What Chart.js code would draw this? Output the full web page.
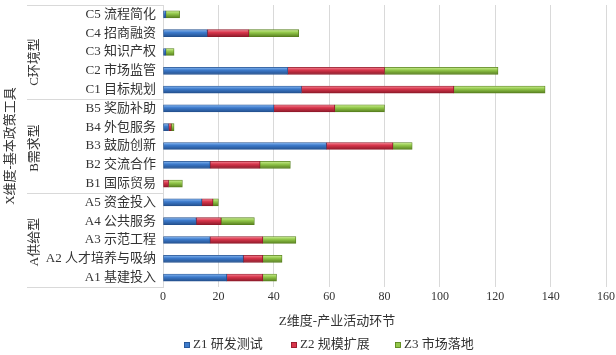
<!DOCTYPE html>
<html lang="zh">
<head>
  <meta charset="UTF-8" />
  <title>政策工具 - 产业活动环节</title>
  <script src="https://cdn.jsdelivr.net/npm/chart.js"></script>
  <style>
    html, body { margin: 0; padding: 0; background: #ffffff; }
    #wrap { width: 616px; height: 355px; }
  </style>
</head>
<body>
<div id="wrap"><canvas id="chart" width="616" height="355"></canvas></div>

<script>
  // data (top to bottom)
  const categories = ['C5 流程简化', 'C4 招商融资', 'C3 知识产权', 'C2 市场监管', 'C1 目标规划',
                      'B5 奖励补助', 'B4 外包服务', 'B3 鼓励创新', 'B2 交流合作', 'B1 国际贸易',
                      'A5 资金投入', 'A4 公共服务', 'A3 示范工程', 'A2 人才培养与吸纳', 'A1 基建投入'];
  const seriesNames = ['Z1 研发测试', 'Z2 规模扩展', 'Z3 市场落地'];
  const z1 = [1, 16, 1, 45, 50, 40, 2, 59, 17, 0, 14, 12, 17, 29, 23];
  const z2 = [0, 15, 0, 35, 55, 22, 1, 24, 18, 2, 4, 9, 19, 7, 13];
  const z3 = [5, 18, 3, 41, 33, 18, 1, 7, 11, 5, 2, 12, 12, 7, 5];
  const groupNames = ['C环境型', 'B需求型', 'A供给型'];
  const groupStart = [0, 5, 10];
  const groupEnd = [4, 9, 14];
  const xTicks = [0, 20, 40, 60, 80, 100, 120, 140, 160];
  const xTitle = 'Z维度-产业活动环节';
  const yTitle = 'X维度-基本政策工具';

  const FONT = "'Liberation Serif', 'Noto Sans CJK SC', serif";
  const TEXT = '#333333';
  const LINE = '#d9d9d9';

  // light / base / dark for the glossy bars
  const palette = [
    ['#8dbbf2', '#3d7bcc', '#24518f'],
    ['#f48a98', '#d8364c', '#8e1a2a'],
    ['#cdee96', '#93c84b', '#58801f']
  ];

  const barFill = (c) => (ctx) => {
    const y = ctx.chart.scales && ctx.chart.scales.y;
    if (!y || ctx.type !== 'data') return c[1];
    const mid = y.getPixelForValue(ctx.dataIndex);
    if (!Number.isFinite(mid)) return c[1];
    const g = ctx.chart.ctx.createLinearGradient(0, mid - 3.5, 0, mid + 3.5);
    g.addColorStop(0, c[0]);
    g.addColorStop(0.4, c[1]);
    g.addColorStop(1, c[2]);
    return g;
  };

  const makeSet = (i, data) => ({
    label: seriesNames[i],
    data,
    backgroundColor: barFill(palette[i]),
    borderColor: palette[i][2],
    borderWidth: 0.8,
    borderSkipped: false,
    barThickness: 7
  });

  // category box, group labels, axis titles and legend
  const groupPlugin = {
    id: 'groupPlugin',
    afterDraw(chart) {
      const { ctx, chartArea, scales: { y } } = chart;
      const step = y.getPixelForValue(1) - y.getPixelForValue(0);
      const boxLeft = 27;
      ctx.save();
      ctx.strokeStyle = LINE;
      ctx.lineWidth = 1;
      const edges = [chartArea.top];
      groupEnd.forEach(e => edges.push(y.getPixelForValue(e) + step / 2));
      edges.forEach(v => {
        const yy = Math.round(v) + 0.5;
        ctx.beginPath();
        ctx.moveTo(boxLeft, yy);
        ctx.lineTo(chartArea.left, yy);
        ctx.stroke();
      });

      ctx.fillStyle = TEXT;
      ctx.textAlign = 'center';
      ctx.textBaseline = 'middle';
      ctx.font = '13px ' + FONT;
      groupNames.forEach((name, i) => {
        const mid = (y.getPixelForValue(groupStart[i]) + y.getPixelForValue(groupEnd[i])) / 2;
        ctx.save();
        ctx.translate(35, mid + (i === 0 ? 10 : 2));
        ctx.rotate(-Math.PI / 2);
        ctx.fillText(name, 0, 0);
        ctx.restore();
      });

      ctx.save();
      ctx.translate(11, (chartArea.top + chartArea.bottom) / 2);
      ctx.rotate(-Math.PI / 2);
      ctx.fillText(yTitle, 0, 0);
      ctx.restore();

      ctx.fillText(xTitle, 337, 322);

      // legend
      const legendX = [184, 291, 395];
      ctx.textAlign = 'left';
      seriesNames.forEach((name, i) => {
        ctx.fillStyle = palette[i][1];
        ctx.fillRect(legendX[i], 342, 6, 6);
        ctx.strokeStyle = palette[i][2];
        ctx.lineWidth = 0.8;
        ctx.strokeRect(legendX[i] + 0.5, 342.5, 5, 5);
        ctx.fillStyle = TEXT;
        ctx.fillText(name, legendX[i] + 9, 345);
      });
      ctx.restore();
    }
  };

  new Chart(document.getElementById('chart'), {
    type: 'bar',
    data: {
      labels: categories,
      datasets: [makeSet(0, z1), makeSet(1, z2), makeSet(2, z3)]
    },
    options: {
      indexAxis: 'y',
      responsive: false,
      animation: false,
      layout: { padding: { left: 0, right: 10, top: 5, bottom: 46 } },
      plugins: {
        tooltip: { enabled: false },
        legend: { display: false }
      },
      scales: {
        x: {
          stacked: true,
          min: 0,
          max: 160,
          afterBuildTicks: (s) => { s.ticks = xTicks.map(v => ({ value: v })); },
          afterFit: (s) => { s.paddingRight = 0; s.paddingLeft = 0; s.height = 22; },
          grid: { color: LINE, drawTicks: false },
          border: { display: false },
          ticks: { color: TEXT, font: { family: FONT, size: 12 }, padding: 3, maxRotation: 0 }
        },
        y: {
          stacked: true,
          afterFit: (s) => { s.width = 163; s.paddingTop = 0; s.paddingBottom = 0; },
          grid: { display: false, drawTicks: false },
          border: { display: true, color: LINE },
          ticks: { color: TEXT, font: { family: FONT, size: 13 }, padding: 7, autoSkip: false }
        }
      }
    },
    plugins: [groupPlugin]
  });
</script>
</body>
</html>
